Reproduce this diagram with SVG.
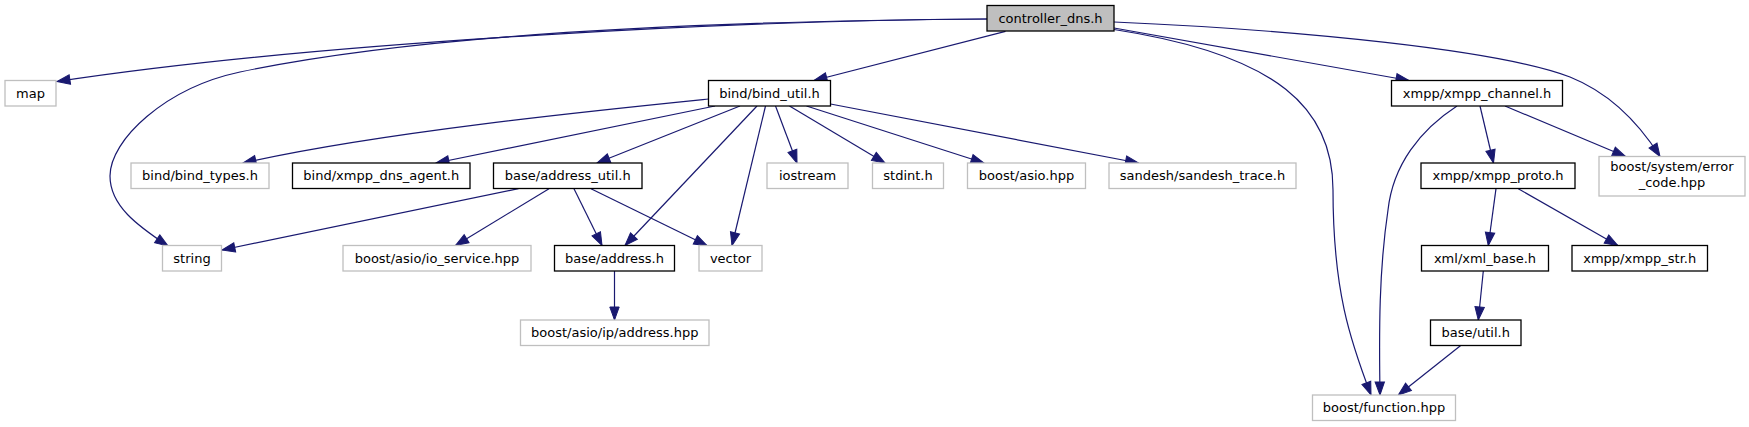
<svg xmlns="http://www.w3.org/2000/svg" width="1749" height="427" viewBox="0 0 1749 427">
<style>
  .bg { fill: #ffffff; }
  .nb { fill: #ffffff; stroke: #000000; stroke-width: 1.3; }
  .ng { fill: #ffffff; stroke: #bfbfbf; stroke-width: 1.3; }
  .nr { fill: #bfbfbf; stroke: #000000; stroke-width: 1.3; }
  text { font-family: "DejaVu Sans", "Liberation Sans", sans-serif; font-size: 13px; fill: #000000; text-anchor: middle; }
  .e { fill: none; stroke: #191970; stroke-width: 1.2; marker-end: url(#arr); }
</style>
<defs>
  <marker id="arr" markerWidth="13" markerHeight="10" refX="13" refY="4.7" orient="auto" markerUnits="userSpaceOnUse" overflow="visible">
    <path d="M0,0 L13,4.7 L0,9.4 z" fill="#191970" stroke="#191970" stroke-width="1"/>
  </marker>
</defs>
<rect class="bg" x="0" y="0" width="1749" height="427"/>

<g id="connectors">
  <path class="e" d="M987,19 C760,20 330,40 57,81.5"/>
  <path class="e" d="M987,19 C700,21 420,34 240,72 C165,88 110,140 110,176 C110,206 138,226 168,246"/>
  <path class="e" d="M1005.5,31.3 L814,80.5"/>
  <path class="e" d="M1114,28 L1409,80.5"/>
  <path class="e" d="M1114,29.5 C1280,55 1333,110 1333,190 C1333,290 1350,340 1371,395"/>
  <path class="e" d="M1114,22 C1300,30 1500,50 1570,77 C1610,93 1640,125 1660,156.5"/>
  <path class="e" d="M708.5,99 C600,110 380,132 243,163"/>
  <path class="e" d="M715,106 L436,163"/>
  <path class="e" d="M740,106 L597,163"/>
  <path class="e" d="M757,106 L625,245.5"/>
  <path class="e" d="M765.5,106 L732,245.5"/>
  <path class="e" d="M775.5,106 L797,163"/>
  <path class="e" d="M789.5,106 L885,163"/>
  <path class="e" d="M806.5,106 L984,163"/>
  <path class="e" d="M830.5,104 L1138.5,163"/>
  <path class="e" d="M518.5,188.7 L222,250"/>
  <path class="e" d="M549,188.7 L455.5,245.5"/>
  <path class="e" d="M574,188.7 L602,245.5"/>
  <path class="e" d="M591,188.7 L707,245.5"/>
  <path class="e" d="M614.5,271 L614.5,320"/>
  <path class="e" d="M1480,106 L1493.5,163"/>
  <path class="e" d="M1505,106 L1625.5,156.5"/>
  <path class="e" d="M1457,106 C1420,130 1393,165 1388,210 C1379,270 1379,330 1380,395"/>
  <path class="e" d="M1496,188.7 L1488.3,245.5"/>
  <path class="e" d="M1518.3,188.7 L1617.8,245.5"/>
  <path class="e" d="M1483.3,271 L1478.3,320"/>
  <path class="e" d="M1460.7,345.5 L1398.3,395"/>
</g>

<g id="n_controller_dns"><rect class="nr" x="987" y="5.5" width="127" height="25.5"/><text x="1050.5" y="22.8">controller_dns.h</text></g>
<g id="n_map"><rect class="ng" x="5" y="80.5" width="51" height="25.5"/><text x="30.5" y="97.8">map</text></g>
<g id="n_bind_util"><rect class="nb" x="708.5" y="80.5" width="122" height="25.5"/><text x="769.5" y="97.8">bind/bind_util.h</text></g>
<g id="n_xmpp_channel"><rect class="nb" x="1391.5" y="80.5" width="171" height="25.5"/><text x="1477" y="97.8">xmpp/xmpp_channel.h</text></g>
<g id="n_bind_types"><rect class="ng" x="131" y="163" width="138" height="25.5"/><text x="200" y="180.3">bind/bind_types.h</text></g>
<g id="n_xmpp_dns_agent"><rect class="nb" x="292.5" y="163" width="177.5" height="25.5"/><text x="381.25" y="180.3">bind/xmpp_dns_agent.h</text></g>
<g id="n_address_util"><rect class="nb" x="493.5" y="163" width="148.5" height="25.5"/><text x="567.75" y="180.3">base/address_util.h</text></g>
<g id="n_iostream"><rect class="ng" x="767" y="163" width="81" height="25.5"/><text x="807.5" y="180.3">iostream</text></g>
<g id="n_stdint"><rect class="ng" x="872.5" y="163" width="71" height="25.5"/><text x="908" y="180.3">stdint.h</text></g>
<g id="n_asio"><rect class="ng" x="967.5" y="163" width="118" height="25.5"/><text x="1026.5" y="180.3">boost/asio.hpp</text></g>
<g id="n_sandesh_trace"><rect class="ng" x="1109" y="163" width="187" height="25.5"/><text x="1202.5" y="180.3">sandesh/sandesh_trace.h</text></g>
<g id="n_xmpp_proto"><rect class="nb" x="1421" y="163" width="154" height="25.5"/><text x="1498" y="180.3">xmpp/xmpp_proto.h</text></g>
<g id="n_error_code"><rect class="ng" x="1599" y="156.5" width="146" height="39.5"/><text x="1672" y="171.3">boost/system/error</text><text x="1672" y="187.3">_code.hpp</text></g>
<g id="n_string"><rect class="ng" x="162.5" y="245.5" width="59" height="25.5"/><text x="192" y="262.8">string</text></g>
<g id="n_io_service"><rect class="ng" x="343" y="245.5" width="188" height="25.5"/><text x="437" y="262.8">boost/asio/io_service.hpp</text></g>
<g id="n_address"><rect class="nb" x="554.5" y="245.5" width="120" height="25.5"/><text x="614.5" y="262.8">base/address.h</text></g>
<g id="n_vector"><rect class="ng" x="699" y="245.5" width="63" height="25.5"/><text x="730.5" y="262.8">vector</text></g>
<g id="n_xml_base"><rect class="nb" x="1421.5" y="245.5" width="127" height="25.5"/><text x="1485" y="262.8">xml/xml_base.h</text></g>
<g id="n_xmpp_str"><rect class="nb" x="1572" y="245.5" width="135.5" height="25.5"/><text x="1639.75" y="262.8">xmpp/xmpp_str.h</text></g>
<g id="n_ip_address"><rect class="ng" x="520.5" y="320" width="188.5" height="25.5"/><text x="614.75" y="337.3">boost/asio/ip/address.hpp</text></g>
<g id="n_util"><rect class="nb" x="1430.5" y="320" width="90.5" height="25.5"/><text x="1475.75" y="337.3">base/util.h</text></g>
<g id="n_function"><rect class="ng" x="1312.5" y="395" width="143" height="25.5"/><text x="1384" y="412.3">boost/function.hpp</text></g>
</svg>
